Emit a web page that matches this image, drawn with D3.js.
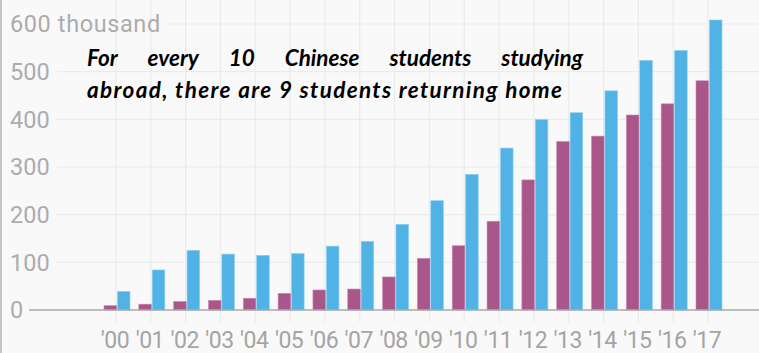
<!DOCTYPE html>
<html>
<head>
<meta charset="utf-8">
<script src="https://cdn.jsdelivr.net/npm/d3@7"></script>
<style>
  body { margin: 0; background: #f9f9f9; }
  svg { display: block; }
</style>
</head>
<body>
<svg></svg>
<script>
var width = 759;
var height = 353;

// chinese students, thousands
var years = ["00", "01", "02", "03", "04", "05", "06", "07", "08", "09",
             "10", "11", "12", "13", "14", "15", "16", "17"];
var returning = [9.1, 12.2, 17.9, 20.2, 24.7, 35.0, 42.0, 44.0, 69.3, 108.3,
                 134.8, 186.2, 272.9, 353.5, 364.8, 409.1, 432.5, 480.9];
var abroad = [39.0, 84.0, 125.2, 117.3, 114.7, 118.5, 134.0, 144.0, 179.8, 229.3,
              284.7, 339.7, 399.6, 413.9, 459.8, 523.7, 544.5, 608.4];
var yTicks = [0, 100, 200, 300, 400, 500, 600];
var note = ["For every 10 Chinese students studying",
            "abroad, there are 9 students returning home"];

var svg = d3.select('svg')
    .attr('width', width)
    .attr('height', height);

svg.append('rect')
    .attr('width', width).attr('height', height)
    .attr('fill', '#f9f9f9');

var y = d3.scaleLinear()
    .domain([0, 600])
    .range([310, 24]);

var x = d3.scalePoint()
    .domain(years)
    .range([116, 708]);

var inner = d3.scaleBand()
    .domain(['returning', 'abroad'])
    .range([-12, 14])
    .paddingInner(0.06);

//..................................................................................//
// grid

svg.append('g').selectAll('line')
    .data(years)
    .enter()
    .append('line')
    .attr('x1', function (d) { return x(d); })
    .attr('x2', function (d) { return x(d); })
    .attr('y1', 0)
    .attr('y2', 322)
    .attr('stroke', '#ebebeb')
    .attr('stroke-width', 1.2);

svg.append('g').selectAll('line')
    .data(yTicks.filter(function (d) { return d > 0; }))
    .enter()
    .append('line')
    .attr('x1', function (d) { return d === 600 ? 170 : 57; })
    .attr('x2', width)
    .attr('y1', function (d) { return y(d); })
    .attr('y2', function (d) { return y(d); })
    .attr('stroke', '#ebebeb')
    .attr('stroke-width', 1.2);

svg.append('g').selectAll('text')
    .data(yTicks)
    .enter()
    .append('text')
    .attr('x', 10)
    .attr('y', function (d) { return y(d); })
    .attr('dy', '0.36em')
    .attr('font-family', 'Roboto')
    .attr('font-size', 23.5)
    .attr('letter-spacing', function (d) { return d === 600 ? 0.6 : 0; })
    .attr('fill', '#acacac')
    .text(function (d) { return d === 600 ? '600 thousand' : d; });

//..................................................................................//
// bars

var groups = svg.append('g').selectAll('g')
    .data(years)
    .enter()
    .append('g')
    .attr('transform', function (d) { return 'translate(' + x(d) + ',0)'; });

groups.append('rect')
    .attr('x', inner('returning'))
    .attr('width', inner.bandwidth())
    .attr('y', function (d, i) { return y(returning[i]); })
    .attr('height', function (d, i) { return y(0) - y(returning[i]); })
    .attr('fill', '#a9568a')
    .attr('stroke', '#c98aaf')
    .attr('stroke-width', 0.6);

groups.append('rect')
    .attr('x', inner('abroad'))
    .attr('width', inner.bandwidth())
    .attr('y', function (d, i) { return y(abroad[i]); })
    .attr('height', function (d, i) { return y(0) - y(abroad[i]); })
    .attr('fill', '#51b2e5')
    .attr('stroke', '#8fd0f0')
    .attr('stroke-width', 0.6);

// baseline
svg.append('line')
    .attr('x1', 29).attr('x2', width)
    .attr('y1', y(0)).attr('y2', y(0))
    .attr('stroke', '#a9a9a9')
    .attr('stroke-width', 1.5);

// left border
svg.append('line')
    .attr('x1', 1).attr('x2', 1)
    .attr('y1', 0).attr('y2', height)
    .attr('stroke', '#b5b5b5')
    .attr('stroke-width', 1.5);

svg.append('g').selectAll('text')
    .data(years)
    .enter()
    .append('text')
    .attr('x', function (d) { return x(d) - 1; })
    .attr('y', 348)
    .attr('text-anchor', 'middle')
    .attr('font-family', 'Roboto')
    .attr('font-size', 23)
    .attr('letter-spacing', -0.5)
    .attr('fill', '#a4a4a4')
    .text(function (d) { return '\u2032' + d; });

//..................................................................................//
// note, justified first line

var noteG = svg.append('g')
    .attr('font-family', 'Lato')
    .attr('font-weight', 'bold')
    .attr('font-style', 'italic')
    .attr('font-size', 22.5)
    .attr('fill', '#000');

var words = note[0].split(' ');
var wt = noteG.selectAll('text.w')
    .data(words)
    .enter()
    .append('text')
    .attr('class', 'w')
    .attr('y', 66)
    .text(function (d) { return d; });

var widths = [];
wt.each(function () { widths.push(this.getComputedTextLength()); });
var left = 87, right = 583;
var gap = (right - left - d3.sum(widths)) / (words.length - 1);
var pos = left;
wt.attr('x', function (d, i) {
    var p = pos;
    pos += widths[i] + gap;
    return p;
});

noteG.append('text')
    .attr('x', 87)
    .attr('y', 98)
    .attr('textLength', 475)
    .attr('lengthAdjust', 'spacing')
    .text(note[1]);
</script>
</body>
</html>
